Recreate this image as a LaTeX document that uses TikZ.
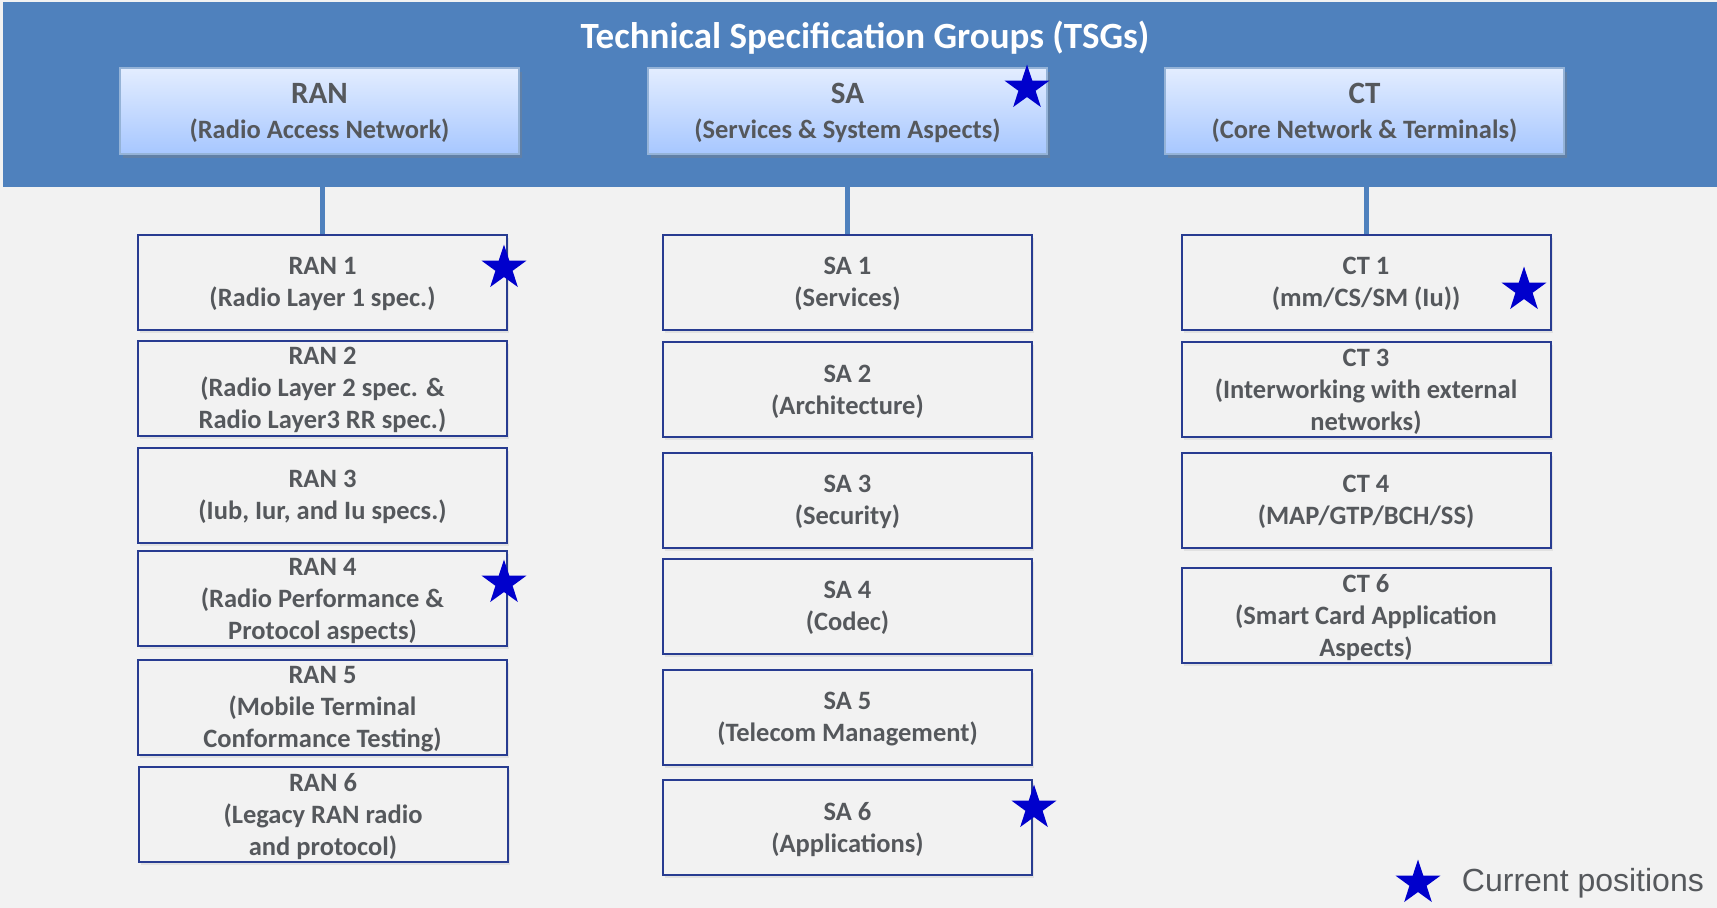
\documentclass[tikz,border=0pt]{standalone}
\usepackage{fontspec}
\setmainfont{Carlito}
\newfontfamily\legendfont{Liberation Sans}
\usepackage{tikz}
\usetikzlibrary{shapes.geometric, shadows, positioning}
\definecolor{bandblue}{RGB}{79, 129, 189}
\definecolor{paper}{RGB}{242, 242, 242}
\definecolor{wgline}{RGB}{40, 60, 145}
\definecolor{textgray}{RGB}{85, 88, 92}
\definecolor{starblue}{RGB}{0, 0, 204}
\definecolor{tsgtop}{RGB}{227, 237, 255}
\definecolor{tsgbot}{RGB}{167, 199, 255}

\begin{document}
\begin{tikzpicture}[x=1pt, y=-1pt,
  tsg/.style={draw=bandblue!60!white, line width=1.5pt, top color=tsgtop, bottom color=tsgbot, minimum width=399pt, minimum height=86pt, align=center, text=textgray, text depth=0pt, font=\fontsize{26.5}{35}\selectfont\bfseries, drop shadow={shadow xshift=3pt, shadow yshift=-4pt, opacity=0.35}},
  wg/.style={draw=wgline, line width=2pt, fill=paper, minimum width=369pt, minimum height=95pt, align=center, text=textgray, text depth=0pt, font=\fontsize{26.5}{32}\selectfont\bfseries, inner sep=0pt, drop shadow={shadow xshift=2pt, shadow yshift=-3pt, opacity=0.15}},
  link/.style={draw=bandblue, line width=5pt},
  curstar/.style={star, star points=5, star point ratio=2.6, fill=starblue, minimum size=47pt, inner sep=0pt}
]
  \useasboundingbox (0,0) rectangle (1717,908);
  \fill[paper] (0,0) rectangle (1717,908);

  % header band
  \node[fill=bandblue, minimum width=1714pt, minimum height=185pt, inner sep=0pt, anchor=north west] (band) at (3,2) {};
  \node[text=white, font=\fontsize{37}{40}\selectfont\bfseries] (title) at (865,38) {Technical Specification Groups (TSGs)};

  \node[tsg] (ran) at (319.5,111) {{\fontsize{31}{35}\selectfont RAN}\\(Radio Access Network)};
  \node[tsg] (sa) at (847.5,111) {{\fontsize{31}{35}\selectfont SA}\\(Services \& System Aspects)};
  \node[tsg] (ct) at (1364.5,111) {{\fontsize{31}{35}\selectfont CT}\\(Core Network \& Terminals)};

  % working groups
  \node[wg] (ran1) at (322.5,282) {RAN 1\\(Radio Layer 1 spec.)};
  \node[wg] (ran2) at (322.5,388) {RAN 2\\(Radio Layer 2 spec. \&\\Radio Layer3 RR spec.)};
  \node[wg] (ran3) at (322.5,495) {RAN 3\\(Iub, Iur, and Iu specs.)};
  \node[wg] (ran4) at (322.5,598.5) {RAN 4\\(Radio Performance \&\\Protocol aspects)};
  \node[wg] (ran5) at (322.5,707) {RAN 5\\(Mobile Terminal\\Conformance Testing)};
  \node[wg] (ran6) at (323,814) {RAN 6\\(Legacy RAN radio\\and protocol)};

  \node[wg] (sa1) at (847.5,282) {SA 1\\(Services)};
  \node[wg] (sa2) at (847.5,389.5) {SA 2\\(Architecture)};
  \node[wg] (sa3) at (847.5,500) {SA 3\\(Security)};
  \node[wg] (sa4) at (847.5,606) {SA 4\\(Codec)};
  \node[wg] (sa5) at (847.5,717) {SA 5\\(Telecom Management)};
  \node[wg] (sa6) at (847.5,827) {SA 6\\(Applications)};

  \node[wg] (ct1) at (1366,282) {CT 1\\(mm/CS/SM (Iu))};
  \node[wg] (ct3) at (1366,389.5) {CT 3\\(Interworking with external\\networks)};
  \node[wg] (ct4) at (1366,500) {CT 4\\(MAP/GTP/BCH/SS)};
  \node[wg] (ct6) at (1366,615) {CT 6\\(Smart Card Application\\Aspects)};

  \draw[link] (band.south -| ran1.north) -- (ran1.north);
  \draw[link] (band.south -| sa1.north) -- (sa1.north);
  \draw[link] (band.south -| ct1.north) -- (ct1.north);

  % current positions
  \node[curstar] (starsa) at (1027,88) {};
  \node[curstar] (starran1) at (504,268) {};
  \node[curstar] (starran4) at (504,583) {};
  \node[curstar] (starct1) at (1524,290) {};
  \node[curstar] (starsa6) at (1034,808) {};

  \node[curstar] (legstar) at (1418,883) {};
  \node[right=31pt of legstar, inner sep=0pt, text=textgray, font=\legendfont\fontsize{32}{36}\selectfont] (legend) {Current positions};
\end{tikzpicture}
\end{document}
